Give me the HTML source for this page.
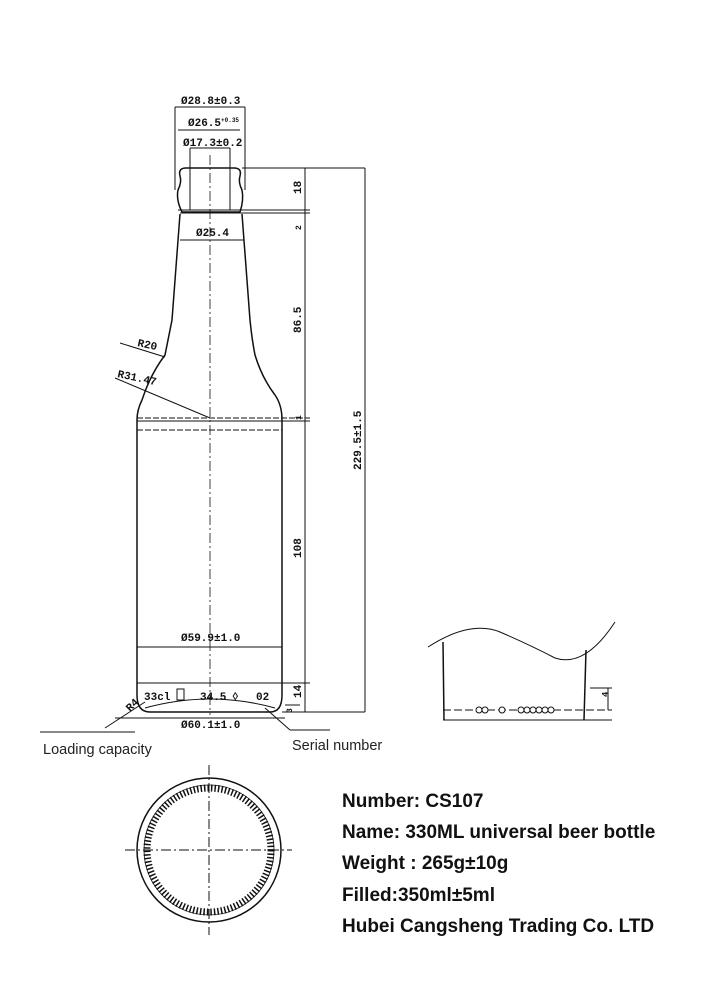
<!DOCTYPE html>
<html><head><meta charset="utf-8"><style>
html,body{margin:0;padding:0;background:#fff;width:707px;height:1000px;overflow:hidden}
svg{position:absolute;left:0;top:0}
.t{font-family:"Liberation Mono",monospace;font-size:11px;font-weight:bold;fill:#111}
.l{font-family:"Liberation Sans",sans-serif;font-size:14.5px;fill:#222}
.b{font-family:"Liberation Sans",sans-serif;font-size:19px;font-weight:bold;fill:#111}
</style></head><body>
<svg width="707" height="1000" viewBox="0 0 707 1000">
<g fill="none" stroke="#111" stroke-width="1">
<line x1="210" y1="155" x2="210" y2="715" stroke-dasharray="10,3,2,3" stroke-width="0.8"/>
<path d="M182 212 Q176 200 178 190 Q182 182 180 176 Q178 168 186 168 L234 168 Q242 168 240 176 Q238 182 242 190 Q244 200 240 212 Z" stroke-width="1.5"/>
<line x1="178" y1="210" x2="310" y2="210"/>
<line x1="180" y1="213" x2="310" y2="213"/>
<path d="M180 214 L172 320 Q168 340 165 355 Q150 375 142 400 Q137 410 137 420 L137 695 Q137 712 150 712 L270 712 Q282 712 282 695 L282 420 Q282 405 275 395 Q262 378 255 355 Q252 340 250 320 L242 214" stroke-width="1.5"/>
<line x1="137" y1="418" x2="310" y2="418" stroke-dasharray="6,2"/>
<line x1="137" y1="421" x2="310" y2="421"/>
<line x1="137" y1="430" x2="282" y2="430" stroke-dasharray="6,2"/>
<line x1="137" y1="647" x2="282" y2="647"/>
<line x1="137" y1="683" x2="310" y2="683"/>
<path d="M145 708 Q210 690 275 708"/>
<line x1="175" y1="107" x2="245" y2="107"/><line x1="175" y1="107" x2="175" y2="190"/><line x1="245" y1="107" x2="245" y2="190"/>
<line x1="178" y1="130" x2="240" y2="130"/>
<line x1="190" y1="148" x2="230" y2="148"/><line x1="190" y1="148" x2="190" y2="210"/><line x1="230" y1="148" x2="230" y2="210"/>
<line x1="180" y1="240" x2="244" y2="240"/>
<line x1="242" y1="168" x2="365" y2="168"/>
<line x1="282" y1="712" x2="365" y2="712"/>
<line x1="305" y1="168" x2="305" y2="712"/>
<line x1="365" y1="168" x2="365" y2="712"/>
<line x1="120" y1="343" x2="165" y2="357"/>
<line x1="115" y1="378" x2="210" y2="418"/>
<line x1="105" y1="728" x2="145" y2="702"/>
<line x1="40" y1="732" x2="135" y2="732"/>
<line x1="115" y1="718" x2="285" y2="718"/>
<line x1="265" y1="708" x2="290" y2="730"/><line x1="290" y1="730" x2="330" y2="730"/>
<line x1="285" y1="705" x2="300" y2="705"/>
<path d="M428 647 Q470 620 500 632 Q530 645 555 658 Q585 668 615 622"/>
<line x1="443" y1="642" x2="444" y2="720" stroke-width="1.5"/>
<line x1="586" y1="650" x2="584" y2="720" stroke-width="1.5"/>
<line x1="443" y1="720" x2="612" y2="720"/>
<line x1="443" y1="710" x2="612" y2="710" stroke-dasharray="8,3"/>
<line x1="608" y1="688" x2="608" y2="710"/>
<line x1="590" y1="688" x2="612" y2="688"/>
<g fill="#fff">
<circle cx="479" cy="710" r="3"/><circle cx="485" cy="710" r="3"/><circle cx="502" cy="710" r="3"/>
<circle cx="521" cy="710" r="3"/><circle cx="527" cy="710" r="3"/><circle cx="533" cy="710" r="3"/><circle cx="539" cy="710" r="3"/><circle cx="545" cy="710" r="3"/><circle cx="551" cy="710" r="3"/>
</g>
<circle cx="209" cy="850" r="72" stroke-width="1.5"/>
<circle cx="209" cy="850" r="62" stroke-dasharray="1.5,2" stroke-width="7"/>
<circle cx="209" cy="850" r="65" stroke-width="0.8"/>
<line x1="209" y1="765" x2="209" y2="935" stroke-dasharray="10,3,2,3"/>
<line x1="125" y1="850" x2="292" y2="850" stroke-dasharray="10,3,2,3"/>
</g>
<text class="t" x="181" y="104">Ø28.8±0.3</text>
<text class="t" x="188" y="126">Ø26.5<tspan font-size="6" dy="-4">+0.35</tspan></text>
<text class="t" x="183" y="146">Ø17.3±0.2</text>
<text class="t" x="196" y="236">Ø25.4</text>
<text class="t" x="181" y="641">Ø59.9±1.0</text>
<text class="t" x="181" y="728">Ø60.1±1.0</text>
<text class="t" x="144" y="700">33cl</text>
<text class="t" x="200" y="700">34.5</text>
<text class="t" x="232" y="700" font-size="14">◊</text>
<text class="t" x="256" y="700">02</text>
<rect x="177" y="689" width="7" height="11" fill="none" stroke="#111"/>
<text class="t" x="137" y="346" transform="rotate(12 137 346)">R20</text>
<text class="t" x="117" y="377" transform="rotate(12 117 377)">R31.47</text>
<text class="t" x="130" y="712" font-size="9" transform="rotate(-45 130 712)">R4</text>
<g class="t">
<text transform="translate(301,194) rotate(-90)">18</text>
<text transform="translate(301,230) rotate(-90)" font-size="8">2</text>
<text transform="translate(301,333) rotate(-90)">86.5</text>
<text transform="translate(301,420) rotate(-90)" font-size="8">1</text>
<text transform="translate(301,558) rotate(-90)">108</text>
<text transform="translate(301,698) rotate(-90)">14</text>
<text transform="translate(292,713) rotate(-90)" font-size="8">3</text>
<text transform="translate(361,470) rotate(-90)">229.5±1.5</text>
<text transform="translate(608,697) rotate(-90)" font-size="9">4</text>
</g>
<text class="l" x="43" y="754">Loading capacity</text>
<text class="l" x="292" y="750">Serial number</text>
<text class="b" x="342" y="807">Number: CS107</text>
<text class="b" x="342" y="838">Name: 330ML universal beer bottle</text>
<text class="b" x="342" y="869">Weight : 265g±10g</text>
<text class="b" x="342" y="901">Filled:350ml±5ml</text>
<text class="b" x="342" y="932">Hubei Cangsheng Trading Co. LTD</text>
</svg>
</body></html>
